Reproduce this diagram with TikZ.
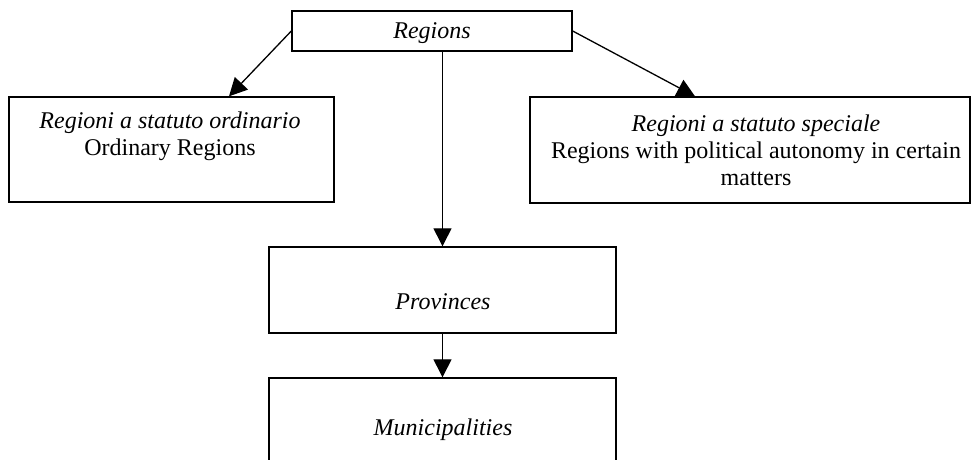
\documentclass[tikz,border=0pt]{standalone}
\usepackage{fontspec}
\setmainfont{Liberation Serif}
\usetikzlibrary{arrows.meta}
\begin{document}
\begin{tikzpicture}[x=1pt,y=-1pt,
  boite/.style={draw,line width=1.4pt,rectangle,inner sep=0pt},
  texte/.style={align=center,inner sep=0pt,font=\fontsize{24}{27}\selectfont},
  fleche/.style={line width=1.3pt,-{Triangle[length=18pt,width=18pt]}}]
\path[use as bounding box,clip] (0,0) rectangle (972,459);

%Les boites
\node[boite,minimum width=280pt,minimum height=40pt] (regions) at (432,31) {};
\node[boite,minimum width=325pt,minimum height=105pt] (ordinaire) at (171.5,149.5) {};
\node[boite,minimum width=440pt,minimum height=106pt] (speciale) at (750,150) {};
\node[boite,minimum width=347pt,minimum height=86pt] (provinces) at (442.5,290) {};
\node[boite,minimum width=347pt,minimum height=86pt] (communes) at (442.5,421) {};

%Les textes
\node[texte] (tregions) at (432,33) {\textit{Regions}};
\node[texte] (tordinaire) at (170,136.5) {\textit{Regioni a statuto ordinario}\\Ordinary Regions};
\node[texte] (tspeciale) at (756,150) {\textit{Regioni a statuto speciale}\\Regions with political autonomy in certain\\matters};
\node[texte] (tprovinces) at (443,302) {\textit{Provinces}};
\node[texte] (tcommunes) at (443,430) {\textit{Municipalities}};

%Les fleches
\draw[fleche] (regions.west) -- ([xshift=57.5pt]ordinaire.north);
\draw[fleche] (regions.east) -- ([xshift=-55pt]speciale.north);
\draw[fleche] (regions.south -| provinces.north) -- (provinces.north);
\draw[fleche] (provinces.south) -- (communes.north);

\end{tikzpicture}
\end{document}
